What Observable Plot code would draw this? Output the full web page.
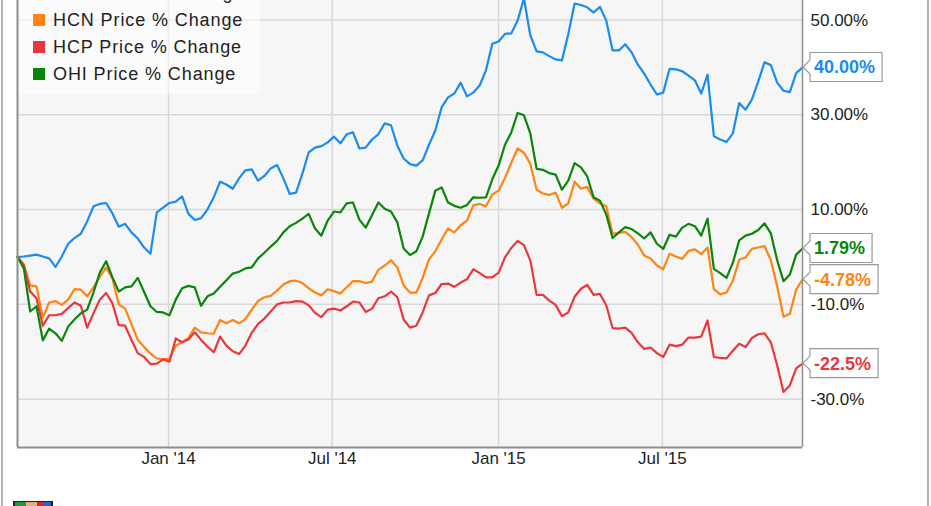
<!DOCTYPE html>
<html><head><meta charset="utf-8">
<script src="https://cdn.jsdelivr.net/npm/d3@7"></script>
<script src="https://cdn.jsdelivr.net/npm/@observablehq/plot@0.6"></script>
<style>
html,body{margin:0;padding:0;background:#fff;}
#chart{width:931px;height:506px;overflow:hidden;}
</style></head><body><div id="chart"></div>
<script>
const seriesTickers = ["DOC", "HCN", "HCP", "OHI"];
const legendLabels = ["DOC Price % Change", "HCN Price % Change", "HCP Price % Change", "OHI Price % Change"];
const seriesColors = ["#1a8cf0", "#ff8411", "#e8383d", "#0a850a"];
const endLabels = ["40.00%", "-4.78%", "-22.5%", "1.79%"];
const yTicks = [50, 30, 10, -10, -30];
const yTickLabels = ["50.00%", "30.00%", "10.00%", "-10.0%", "-30.0%"];
const xTicks = ["2014-01-01", "2014-07-01", "2015-01-01", "2015-07-01"];
const xTickLabels = ["Jan '14", "Jul '14", "Jan '15", "Jul '15"];
const startDate = "2013-07-18"; // weekly observations

const docValues = [0,0.1,0.3,0.5,0.1,-0.3,-2.1,0.1,2.8,4.0,
4.9,7.5,10.7,11.2,11.4,9.2,6.4,7.0,5.2,3.9,
2.0,0.7,9.4,10.4,11.4,11.7,12.8,9.1,7.8,8.2,
10.0,12.6,15.9,15.3,14.4,16.6,18.3,18.5,16.1,17.1,
18.7,19.4,16.6,13.3,13.6,17.6,22.1,23.1,23.4,24.2,
25.4,24.0,25.9,26.3,22.9,23.1,24.8,25.9,28.2,27.8,
23.5,20.8,19.6,19.3,20.4,23.7,26.7,31.6,33.7,34.5,
36.8,33.9,34.7,36.2,39.4,45.0,45.5,47.1,47.2,49.9,
54.6,46.8,43.4,43.2,42.4,41.7,41.5,47.0,53.5,53.2,
52.7,51.6,52.8,49.9,43.6,43.6,44.9,43.2,40.6,38.7,
36.4,34.3,34.7,39.7,39.6,39.2,38.3,37.3,34.5,38.5,
25.5,24.8,24.3,26.1,32.5,31.1,33.2,37.0,41.1,40.5,
36.8,35.1,34.8,38.8,40.0];

const hcnValues = [0,-1.6,-6.0,-6.2,-12.8,-9.6,-9.3,-10.1,-9.0,-6.8,
-6.9,-8.3,-6.4,-4.2,-2.2,-4.6,-10.0,-10.9,-14.2,-17.5,
-19.0,-20.4,-21.4,-21.6,-21.5,-18.7,-18.0,-17.1,-14.9,-15.9,
-16.1,-16.2,-13.3,-14.0,-13.3,-14.0,-13.1,-11.1,-9.3,-8.5,
-8.2,-7.1,-5.8,-5.1,-5.0,-5.5,-6.6,-7.5,-8.1,-6.8,
-7.2,-7.7,-6.4,-5.1,-5.1,-5.5,-5.2,-2.7,-1.8,-0.7,
-2.2,-6.0,-7.5,-7.5,-4.4,-0.5,1.2,3.7,6.0,5.2,
6.7,7.7,10.9,11.2,10.7,13.2,14.0,16.7,19.9,22.9,
22.0,19.7,14.2,13.4,13.1,13.6,10.4,11.3,15.9,14.4,
14.8,12.3,11.3,10.7,4.9,5.1,5.3,4.2,2.6,0.3,
-0.3,-1.8,-2.6,0.7,0.1,-0.4,1.3,1.6,0.6,2.0,
-6.8,-7.9,-7.5,-5.0,-0.6,-0.1,1.7,2.0,2.3,-0.7,
-6.2,-12.6,-12.0,-6.9,-4.78];

const hcpValues = [0,-1.8,-7.3,-8.7,-14.5,-12.3,-12.3,-12.0,-10.8,-9.6,
-10.3,-14.9,-11.9,-9.0,-7.6,-9.8,-14.4,-14.5,-17.5,-20.3,
-21.1,-22.6,-22.5,-21.6,-22.1,-17.2,-18.0,-17.4,-15.9,-17.5,
-18.9,-20.1,-16.8,-18.7,-19.9,-20.5,-18.7,-16.0,-14.1,-13.0,
-11.5,-10.0,-9.6,-9.6,-9.3,-9.4,-10.2,-11.8,-12.7,-11.1,
-10.9,-11.3,-10.4,-9.4,-9.6,-11.6,-10.9,-8.7,-8.3,-7.3,
-8.5,-13.2,-14.9,-14.5,-11.7,-8.1,-7.6,-5.7,-5.6,-6.3,
-5.4,-4.7,-2.6,-3.4,-4.3,-4.3,-3.3,-0.1,1.9,3.4,
2.5,-0.7,-8.0,-8.0,-9.2,-10.1,-12.5,-11.7,-8.4,-6.7,
-5.9,-8.0,-7.8,-10.2,-15.0,-15.1,-14.9,-16.0,-18.0,-19.4,
-19.1,-20.3,-21.1,-18.5,-18.8,-18.5,-17.0,-17.0,-16.8,-13.4,
-21.1,-21.3,-21.4,-19.8,-18.3,-19.0,-17.1,-16.3,-16.1,-18.0,
-22.9,-28.5,-27.1,-23.5,-22.5];

const ohiValues = [0,-2.4,-11.5,-10.4,-17.6,-15.1,-16.1,-17.7,-14.7,-13.2,
-11.9,-11.1,-7.5,-3.3,-0.9,-4.3,-7.3,-6.4,-6.2,-4.4,
-7.4,-10.4,-11.6,-11.7,-12.3,-9.0,-6.6,-6.1,-6.4,-10.3,
-8.3,-7.7,-6.3,-4.9,-3.5,-3.1,-2.4,-2.2,-0.3,0.9,
2.2,3.4,5.2,6.5,7.2,8.1,9.1,6.0,4.5,7.7,
9.6,9.4,11.3,11.5,7.9,6.2,8.8,11.5,10.2,9.6,
7.3,1.8,0.4,1.2,4.3,9.2,14.0,14.7,11.5,10.8,
10.4,11.0,12.6,12.5,12.6,16.4,19.3,23.7,26.3,30.4,
29.9,26.1,18.6,18.4,17.7,17.4,14.2,16.1,19.8,18.9,
17.0,12.6,11.9,9.0,4.0,5.2,6.3,5.9,5.0,3.9,
5.2,2.8,1.7,4.7,4.3,6.2,7.0,6.5,4.5,8.1,
-2.5,-3.4,-4.4,-1.2,3.5,4.5,4.9,5.7,7.1,5.0,
-0.7,-5.1,-3.7,0.5,1.79];

const valueSets = [docValues, hcnValues, hcpValues, ohiValues];
const start = new Date(startDate);
const rows = valueSets.flatMap((vals, s) =>
  vals.map((v, i) => ({date: d3.utcDay.offset(start, 7 * i), value: v, series: seriesTickers[s]})));
const xMin = rows[0].date;
const xMax = d3.utcDay.offset(start, 7 * (docValues.length - 1));
const yMin = -40.21, yMax = 54.14;
const xTickDates = xTicks.map(d => new Date(d));
const lastPoints = valueSets.map((vals, s) => ({series: seriesTickers[s], value: vals[vals.length - 1], label: endLabels[s], color: seriesColors[s]}));
const FONT = "'Liberation Sans', Arial, Helvetica, sans-serif";

function legendMark(index, scales, values, dim) {
  const g = d3.create("svg:g").attr("text-anchor", "start");
  const x0 = dim.marginLeft;
  g.append("rect").attr("x", x0).attr("y", -40).attr("width", 243).attr("height", 134)
    .attr("fill", "#ffffff").attr("fill-opacity", 0.5);
  legendLabels.forEach((lab, i) => {
    const cy = -7 + 27 * i;
    g.append("rect").attr("x", x0 + 16).attr("y", cy - 6).attr("width", 12).attr("height", 12)
      .attr("fill", seriesColors[i]);
    g.append("text").attr("x", x0 + 36).attr("y", cy).attr("dy", "0.35em")
      .attr("text-anchor", "start")
      .attr("font-family", FONT).attr("font-size", 18).attr("letter-spacing", "0.9px")
      .attr("fill", "#222").text(lab);
  });
  return g.node();
}

function endLabelMark(index, scales, values, dim) {
  const g = d3.create("svg:g").attr("text-anchor", "start");
  const px = scales.x(xMax);
  lastPoints.forEach(p => {
    const cy = scales.y(p.value);
    const gg = g.append("g").attr("class", "endlabel");
    gg.append("path").attr("fill", "#fff").attr("stroke", "#9a9a9a").attr("stroke-width", 1.2);
    gg.append("text").attr("x", px + 12).attr("y", cy).attr("dy", "0.36em")
      .attr("text-anchor", "start")
      .attr("font-family", FONT).attr("font-size", 18).attr("font-weight", "bold")
      .attr("fill", p.color).text(p.label);
    gg.attr("data-cy", cy).attr("data-px", px);
  });
  return g.node();
}

function outerMark(index, scales, values, dim) {
  const g = d3.create("svg:g");
  g.append("line").attr("x1", 2).attr("x2", 2).attr("y1", 0).attr("y2", dim.height).attr("stroke", "#9a9a9a").attr("stroke-width", 1.5);
  g.append("line").attr("x1", dim.width - 3).attr("x2", dim.width - 3).attr("y1", 0).attr("y2", dim.height).attr("stroke", "#9a9a9a").attr("stroke-width", 1.5);
  const lg = g.append("g");
  lg.append("rect").attr("x", 13).attr("y", 501).attr("width", 40).attr("height", 8).attr("fill", "#222");
  lg.append("rect").attr("x", 15).attr("y", 502).attr("width", 11).attr("height", 8).attr("fill", "#1f9a3a");
  lg.append("rect").attr("x", 26).attr("y", 502).attr("width", 11).attr("height", 8).attr("fill", "#e0b080");
  lg.append("rect").attr("x", 37).attr("y", 502).attr("width", 6).attr("height", 8).attr("fill", "#d22");
  lg.append("rect").attr("x", 43).attr("y", 502).attr("width", 8).attr("height", 8).attr("fill", "#2a5fd0");
  return g.node();
}

const chart = Plot.plot({
  width: 931, height: 506,
  marginLeft: 17, marginRight: 129, marginTop: 0, marginBottom: 59,
  x: {type: "utc", domain: [xMin, xMax], axis: null},
  y: {domain: [yMin, yMax], axis: null},
  color: {domain: seriesTickers, range: seriesColors},
  style: {background: "#fff", fontFamily: FONT},
  marks: [
    Plot.frame({fill: "#f6f6f6", stroke: null}),
    Plot.ruleY(yTicks, {stroke: "#d8d8d8", strokeWidth: 1.5}),
    Plot.ruleX(xTickDates, {stroke: "#d8d8d8", strokeWidth: 1.5}),
    legendMark,
    Plot.line(rows, {x: "date", y: "value", z: "series", stroke: "series", strokeWidth: 2.2, strokeLinejoin: "round"}),
    Plot.ruleX([xMin], {stroke: "#8e8e8e", strokeWidth: 2}),
    Plot.ruleX([xMax], {stroke: "#8e8e8e", strokeWidth: 1.5}),
    Plot.ruleY([yMin], {stroke: "#8e8e8e", strokeWidth: 2}),
    Plot.text(yTicks, {y: d => d, frameAnchor: "right", dx: 8, textAnchor: "start",
      text: (d, i) => yTickLabels[i], fontSize: 17, fill: "#222", fontFamily: FONT}),
    Plot.text(xTickDates, {x: d => d, frameAnchor: "bottom", dy: 16, text: (d, i) => xTickLabels[i],
      fontSize: 17, fill: "#222", fontFamily: FONT, letterSpacing: "0.6px"}),
    endLabelMark,
    outerMark
  ]
});
document.getElementById("chart").append(chart);

// size label boxes to their text
d3.select(chart).selectAll("g.endlabel").each(function() {
  const gg = d3.select(this);
  const cy = +gg.attr("data-cy"), px = +gg.attr("data-px");
  const bb = gg.select("text").node().getBBox();
  const left = px + 8, right = bb.x + bb.width + 7, top = cy - 14.5, bot = cy + 14.5;
  gg.select("path").attr("d",
    `M${left},${top}H${right}V${bot}H${left}V${cy + 7}L${px + 1},${cy}L${left},${cy - 7}Z`);
});
</script></body></html>
